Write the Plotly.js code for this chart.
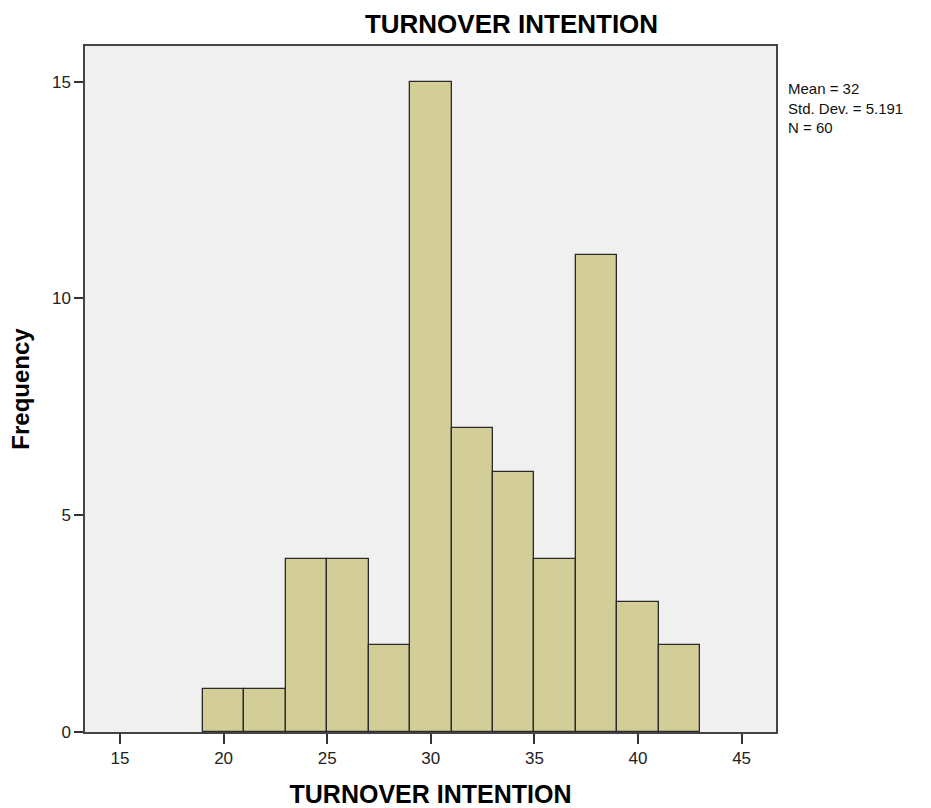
<!DOCTYPE html>
<html>
<head>
<meta charset="utf-8">
<script src="https://cdn.plot.ly/plotly-3.0.1.min.js"></script>
<style>html,body{margin:0;padding:0;background:#fff}#chart{width:931px;height:808px}</style>
</head>
<body>
<div id="chart"></div>
<script>
// Histogram bins (bin centers, width 2) and frequencies
const binCenters = [20, 22, 24, 26, 28, 30, 32, 34, 36, 38, 40, 42];
const frequencies = [1, 1, 4, 4, 2, 15, 7, 6, 4, 11, 3, 2];
const binWidth = 2;
const xTicks = [15, 20, 25, 30, 35, 40, 45];
const yTicks = [0, 5, 10, 15];
const statsLines = ["Mean = 32", "Std. Dev. = 5.191", "N = 60"];
const chartTitle = "TURNOVER INTENTION";
const xTitle = "TURNOVER INTENTION";
const yTitle = "Frequency";

const FONT = "Liberation Sans, Arial, sans-serif";

const trace = {
  type: 'bar',
  x: binCenters,
  y: frequencies,
  width: binCenters.map(() => binWidth),
  marker: { color: '#d3ce98', line: { color: '#2a2a2a', width: 1.3 } },
  hoverinfo: 'x+y'
};

const annotations = [{
  text: statsLines.join('<br>'), xref: 'paper', yref: 'paper', x: 1.015, y: 0.910,
  xanchor: 'left', yanchor: 'middle', align: 'left', showarrow: false,
  font: { family: FONT, size: 15, color: '#111' }
}];

const layout = {
  width: 931, height: 808,
  margin: { l: 85, r: 155, t: 46, b: 76, pad: 0 },
  paper_bgcolor: '#ffffff',
  plot_bgcolor: '#f0f0f0',
  showlegend: false,
  bargap: 0,
  title: {
    text: chartTitle,
    font: { family: FONT, size: 26, color: '#000', weight: 'bold' },
    xref: 'container', yref: 'container',
    x: 511.5 / 931, y: 1 - 24 / 808, xanchor: 'center', yanchor: 'middle'
  },
  xaxis: {
    range: [13.31, 46.66],
    tickvals: xTicks,
    ticktext: xTicks.map(String),
    ticks: 'outside', ticklen: 10, tickwidth: 1.5, tickcolor: '#333',
    showgrid: false, zeroline: false,
    showline: true, linecolor: '#444', linewidth: 1.5, mirror: true,
    tickfont: { family: FONT, size: 17, color: '#222' },
    title: { text: xTitle, standoff: 19, font: { family: FONT, size: 25, color: '#000', weight: 'bold' } }
  },
  yaxis: {
    range: [0, 15.82],
    tickvals: yTicks,
    ticktext: yTicks.map(String),
    ticks: 'outside', ticklen: 9, tickwidth: 1.5, tickcolor: '#333',
    showgrid: false, zeroline: false,
    showline: true, linecolor: '#444', linewidth: 1.5, mirror: true,
    tickfont: { family: FONT, size: 17, color: '#222' },
    title: { text: yTitle, standoff: 16, font: { family: FONT, size: 24, color: '#000', weight: 'bold' } }
  },
  annotations: annotations
};

Plotly.newPlot('chart', [trace], layout, { displayModeBar: false });
</script>
</body>
</html>
